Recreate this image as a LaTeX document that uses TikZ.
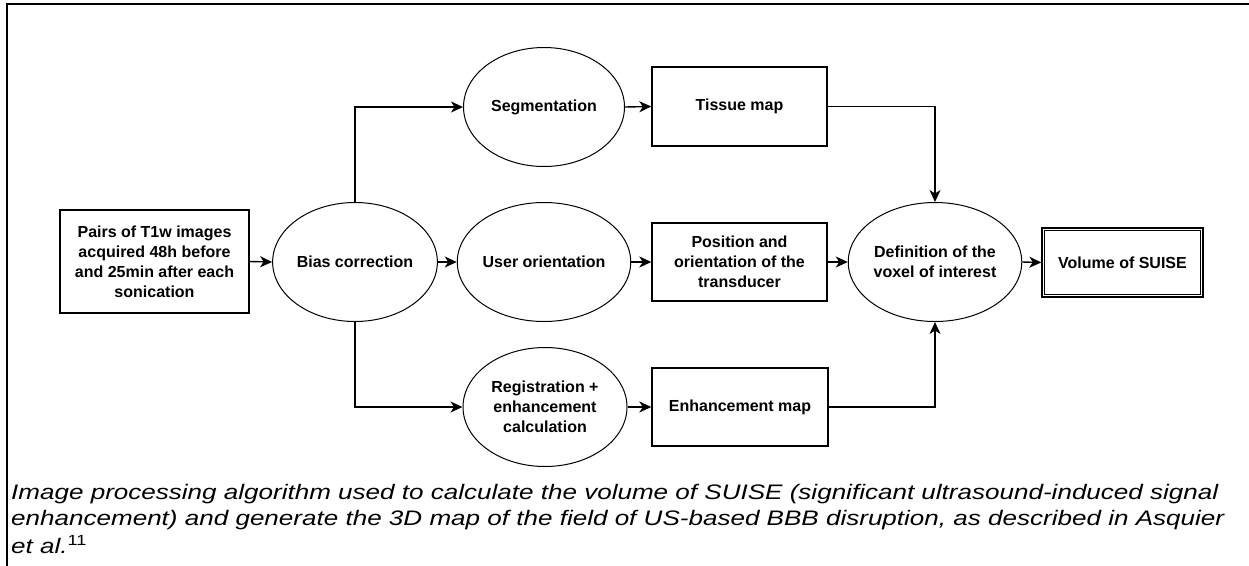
\documentclass[tikz,border=0pt]{standalone}
\usepackage{fontspec}
\setmainfont{Liberation Sans}
\newfontfamily\capfont[FakeStretch=1.24]{Liberation Sans}
\usetikzlibrary{shapes.geometric,arrows.meta}
\tikzset{
  nodefont/.style={font=\bfseries\fontsize{16}{20}\selectfont, align=center, inner sep=0pt},
  oval/.style={nodefont, ellipse, draw, line width=1pt, minimum width=161pt, minimum height=119pt},
  boxx/.style={nodefont, rectangle, draw, line width=1.4pt, minimum width=175pt, minimum height=78pt},
  arr/.style={line width=1.4pt, -{Stealth[length=12pt,width=11pt,inset=3.5pt]}},
  captxt/.style={font=\capfont\itshape\fontsize{21}{27}\selectfont, anchor=base west, inner sep=0pt},
  frame/.style={line width=1.5pt}
}
\begin{document}
\begin{tikzpicture}[x=1pt,y=-1pt]
\useasboundingbox (0,0) rectangle (1249,565);
\draw[frame] (1252,4) -- (7,4) -- (7,568);

\node[boxx, minimum width=189pt, minimum height=103pt] (pairs) at (154.5,261.5) {Pairs of T1w images\\acquired 48h before\\and 25min after each\\sonication};
\node[oval, minimum width=158pt] (bias) at (355,262) {Bias correction};
\node[oval] (seg) at (544,107) {Segmentation};
\node[oval] (user) at (544,262) {User orientation};
\node[oval, minimum width=164pt] (reg) at (545,407) {Registration +\\enhancement\\calculation};
\node[boxx, minimum height=79pt] (tissue) at (739.5,106.5) {Tissue map};
\node[boxx] (pos) at (739.5,262) {Position and\\orientation of the\\transducer};
\node[boxx, minimum width=176pt] (enh) at (740,407) {Enhancement map};
\node[oval] (def) at (935,262) {Definition of the\\voxel of interest};
\node[boxx, minimum width=161pt, minimum height=69pt] (vol) at (1122.5,262.5) {Volume of SUISE};
\draw[line width=0.8pt] ([shift={(3.5,3.5)}]vol.north west) rectangle ([shift={(-3.5,-3.5)}]vol.south east);

\draw[arr] (pairs.east) -- (bias.west);
\draw[arr] (bias.east) -- (user.west);
\draw[arr] (user.east) -- (pos.west);
\draw[arr] (pos.east) -- (def.west);
\draw[arr] (def.east) -- (vol.west);
\draw[arr] (seg.east) -- (tissue.west);
\draw[arr] (reg.east) -- (enh.west);
\draw[arr] (bias.north) |- (seg.west);
\draw[arr] (bias.south) |- (reg.west);
\draw[arr] (tissue.east) -| (def.north);
\draw[arr] (enh.east) -| (def.south);

\node[captxt] (cap1) at (11,499) {Image processing algorithm used to calculate the volume of SUISE (significant ultrasound-induced signal};
\node[captxt] (cap2) at (11,525.5) {enhancement) and generate the 3D map of the field of US-based BBB disruption, as described in Asquier};
\node[captxt] (cap3) at (11,553) {et al.\textsuperscript{\upshape 11}};
\end{tikzpicture}
\end{document}
